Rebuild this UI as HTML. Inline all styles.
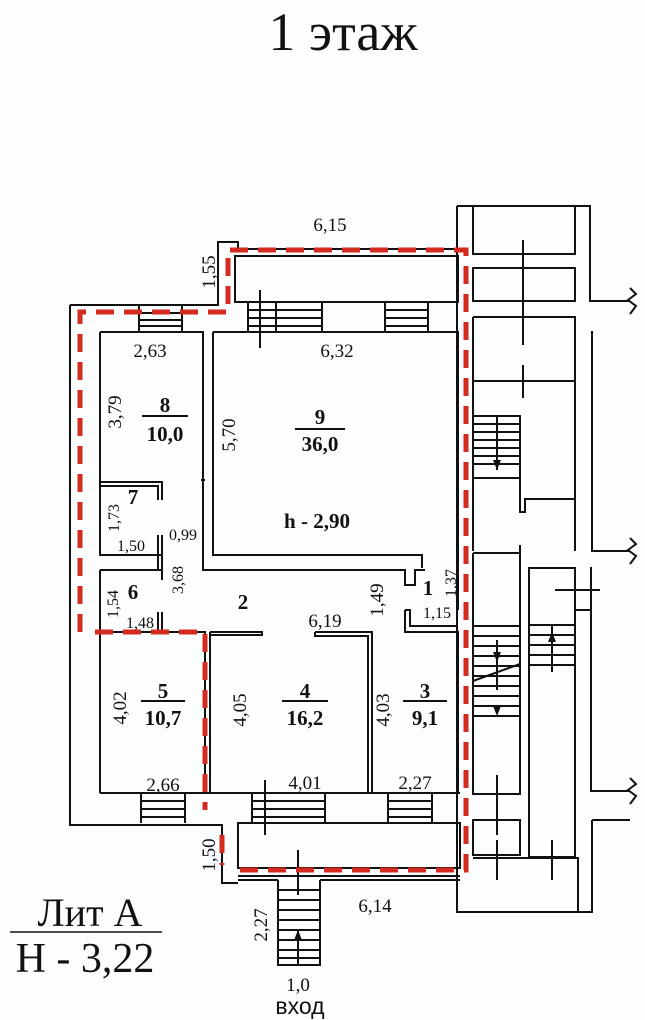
<!DOCTYPE html>
<html><head><meta charset="utf-8"><style>
html,body{margin:0;padding:0;background:#fcfdfe;}
svg{display:block}
text{font-family:"Liberation Serif","DejaVu Serif",serif;fill:#111}
.b{font-weight:bold}
</style></head><body>
<svg width="645" height="1020" viewBox="0 0 645 1020" xmlns="http://www.w3.org/2000/svg">
<rect width="645" height="1020" fill="#fcfdfe"/>
<text x="343" y="50" font-size="54" text-anchor="middle" style="font-family:'Liberation Serif',serif">1 этаж</text>

<g fill="none" stroke="#111" stroke-width="2">
<path d="M70,305 H218 V242 H238 V249 H457"/>
<path d="M235,256 H458 V302 H235 Z"/>
<path d="M70,305 V825 H222 V883 H238"/>
<path d="M238,823 H460 V868 H238 Z"/>
<path d="M238,876 H460 M238,880 H278 M320,880 H460"/>
<path d="M248,302 V332 M322,302 V332 M248,310 H322 M248,318 H322 M248,326 H322 M276,302 V332"/>
<path d="M260,290 V348"/>
<path d="M385,302 V332 M428,302 V332 M385,310 H428 M385,318 H428 M385,326 H428"/>
<path d="M139,305 V332 M182,305 V332 M139,313 H182 M139,320 H182 M139,326 H182"/>
<path d="M100,332 H203 V570 H405 V585 H415 V570 H425 M100,332 V482"/>
<path d="M213,332 H458 V610 M213,332 V555 H422 V568"/>
<path d="M201,480 H205"/>
<path d="M100,482 H162 V500 M100,486 H158 V500"/>
<path d="M100,482 V555 H162 V535 M158,535 V570 H162 V535"/>
<path d="M100,570 H162 V580 M100,570 V793"/>
<path d="M158,612 V632 H162 V612"/>
<path d="M100,632 H205 V793 M210,632 V793 M210,632 H262 V635 H210"/>
<path d="M315,632 H372 V793 M315,632 V636 H368 V793"/>
<path d="M405,610 V632 H458 V793 M405,610 H410 V626 H458"/>
<path d="M458,570 V610"/>
<path d="M100,793 H460"/>
<path d="M141,793 V823 M185,793 V823 M141,801 H185 M141,809 H185 M141,817 H185"/>
<path d="M252,793 V823 M325,793 V823 M252,801 H325 M252,809 H325 M252,817 H325 M265,780 V835"/>
<path d="M388,793 V823 M432,793 V823 M388,801 H432 M388,809 H432 M388,817 H432"/>
<path d="M298,850 V895"/>
<path d="M278,880 V965 H320 V880 M278,890 H320 M278,900 H320 M278,910 H320 M278,920 H320 M278,930 H320 M278,940 H320 M278,950 H320 M278,958 H320 M298,930 V965"/>
<path d="M457,206 H590 V301 H630 M592,331 V551 H630 M591,567 V791 H630 M592,820 V912 H457 V206 M592,820 H630"/>
<path d="M630,288 L636,294 L628,300 L636,306 L630,314"/>
<path d="M630,538 L636,544 L628,550 L636,556 L630,564"/>
<path d="M630,778 L636,784 L628,790 L636,796 L630,804"/>
<path d="M473,206 V254 H575 V206 M473,268 H575 V301 H473 Z"/>
<path d="M473,317 H575 V551 M473,317 V551 M473,381 H575 M523,240 V345 M523,365 V398"/>
<path d="M473,416 H520 V478 H473 M473,424 H520 M473,432 H520 M473,440 H520 M473,448 H520 M473,456 H520 M473,464 H520 M497,416 V470"/>
<path d="M520,478 V512 H525 V499 H575 M520,545 V553 M473,553 H520"/>
<path d="M473,553 V794 H520 V553 M473,626 H520 M473,636 H520 M473,646 H520 M473,656 H520 M473,666 H520 M473,676 H520 M473,686 H520 M473,696 H520 M473,706 H520 M473,716 H520 M473,681 L520,664 M497,640 V690"/>
<path d="M529,568 H575 V857 H529 Z M575,568 V610 H591 M529,625 H575 M529,635 H575 M529,645 H575 M529,655 H575 M529,665 H575 M552,625 V672 M555,590 H600"/>
<path d="M473,820 H520 V855 H473 Z M473,858 H578 V912 M497,775 V835 M497,840 V880 M552,840 V880"/>
</g>
<g fill="#111">
<path d="M493,460 L501,460 L497,470 Z"/><path d="M493,652 L501,652 L497,662 Z"/><path d="M493,706 L501,706 L497,716 Z"/><path d="M548,642 L556,642 L552,632 Z"/><path d="M294,940 L302,940 L298,930 Z"/>
</g>

<g fill="none" stroke="#d42a1f" stroke-width="5" stroke-dasharray="18 10">
<path d="M80,632 V312 H228 V250 H466 V870 H236"/>
<path d="M95,632 H205 V810"/>
<path d="M222,835 V865"/>
</g>

<g font-size="19">
<text x="330" y="231" text-anchor="middle">6,15</text>
<text x="150" y="357" text-anchor="middle">2,63</text>
<text x="337" y="357" text-anchor="middle">6,32</text>
<text x="131" y="551" text-anchor="middle" font-size="16">1,50</text>
<text x="183" y="540" text-anchor="middle" font-size="16">0,99</text>
<text x="140" y="628" text-anchor="middle" font-size="16">1,48</text>
<text x="325" y="627" text-anchor="middle">6,19</text>
<text x="437" y="618" text-anchor="middle" font-size="16">1,15</text>
<text x="163" y="791" text-anchor="middle">2,66</text>
<text x="305" y="789" text-anchor="middle">4,01</text>
<text x="415" y="789" text-anchor="middle">2,27</text>
<text x="375" y="912" text-anchor="middle">6,14</text>
<text x="298" y="991" text-anchor="middle">1,0</text>
<text transform="translate(215,272) rotate(-90)" text-anchor="middle">1,55</text>
<text transform="translate(121,412) rotate(-90)" text-anchor="middle">3,79</text>
<text transform="translate(235,435) rotate(-90)" text-anchor="middle">5,70</text>
<text transform="translate(119,518) rotate(-90)" text-anchor="middle" font-size="16">1,73</text>
<text transform="translate(183,580) rotate(-90)" text-anchor="middle" font-size="16">3,68</text>
<text transform="translate(118,604) rotate(-90)" text-anchor="middle" font-size="16">1,54</text>
<text transform="translate(383,600) rotate(-90)" text-anchor="middle">1,49</text>
<text transform="translate(456,583) rotate(-90)" text-anchor="middle" font-size="16">1,37</text>
<text transform="translate(126,708) rotate(-90)" text-anchor="middle">4,02</text>
<text transform="translate(246,710) rotate(-90)" text-anchor="middle">4,05</text>
<text transform="translate(389,710) rotate(-90)" text-anchor="middle">4,03</text>
<text transform="translate(215,855) rotate(-90)" text-anchor="middle">1,50</text>
<text transform="translate(267,925) rotate(-90)" text-anchor="middle">2,27</text>
</g>
<g font-size="21" class="b" text-anchor="middle">
<text x="165" y="412" class="b">8</text><text x="165" y="441" class="b">10,0</text>
<text x="320" y="424" class="b">9</text><text x="320" y="451" class="b">36,0</text>
<text x="317" y="528" class="b">h - 2,90</text>
<text x="133" y="504" class="b">7</text>
<text x="133" y="599" class="b">6</text>
<text x="243" y="609" class="b">2</text>
<text x="428" y="595" class="b">1</text>
<text x="163" y="698" class="b">5</text><text x="163" y="725" class="b">10,7</text>
<text x="305" y="698" class="b">4</text><text x="305" y="725" class="b">16,2</text>
<text x="425" y="698" class="b">3</text><text x="425" y="725" class="b">9,1</text>
</g>
<g stroke="#111" stroke-width="2">
<line x1="142" y1="416" x2="188" y2="416"/><line x1="295" y1="429" x2="345" y2="429"/>
<line x1="141" y1="701" x2="185" y2="701"/><line x1="282" y1="701" x2="328" y2="701"/><line x1="403" y1="701" x2="447" y2="701"/>
<line x1="10" y1="932" x2="162" y2="932" stroke-width="1.5"/>
</g>
<text x="90" y="926" font-size="40" text-anchor="middle">Лит А</text>
<text x="85" y="972" font-size="42" text-anchor="middle">H - 3,22</text>
<text x="300" y="1014" font-size="23" text-anchor="middle" style="font-family:'Liberation Sans',sans-serif">вход</text>
</svg>
</body></html>
